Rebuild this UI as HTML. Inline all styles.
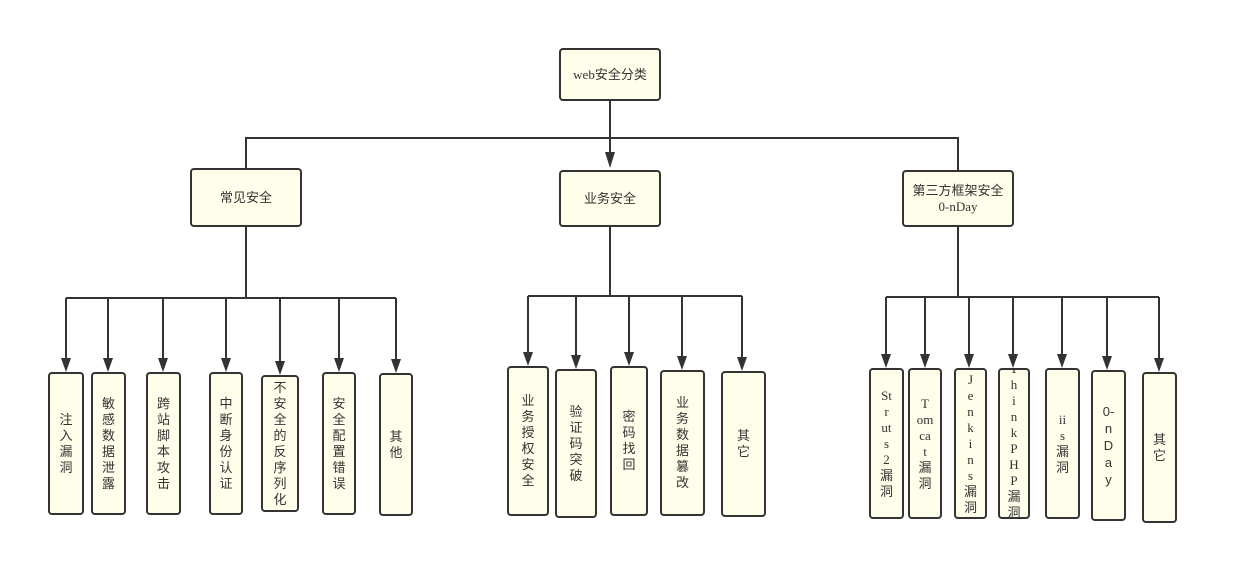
<!DOCTYPE html>
<html><head><meta charset="utf-8"><style>
body{margin:0;background:#fff;width:1238px;height:583px;position:relative;overflow:hidden;font-family:"Liberation Sans","Noto Sans CJK SC",sans-serif;}
.b{position:absolute;box-sizing:border-box;background:#fefeea;border:2px solid #333;border-radius:4px;display:flex;align-items:center;justify-content:center;text-align:center;color:#333;font-size:13px;line-height:16px;overflow:hidden;}
.s{font-family:"Liberation Serif","Noto Sans CJK SC",serif;}
svg{position:absolute;left:0;top:0;}
</style></head><body>
<svg width="1238" height="583">
<g stroke="#333" stroke-width="2" fill="none">
<path d="M610 100V152M246 168V138H958V170M610 138V152"/>
<path d="M246 226V298M66 298H396M66 298V358M108 298V358M163 298V358M226 298V358M280 298V361M339 298V358M396 298V359"/>
<path d="M610 226V296M528 296H742M528 296V352M576 296V355M629 296V352M682 296V356M742 296V357"/>
<path d="M958 226V297M886 297H1159M886 297V354M925 297V354M969 297V354M1013 297V354M1062 297V354M1107 297V356M1159 297V358"/>
</g>
<g fill="#333">
<path d="M605 152h10l-5 16z"/>
<path d="M61 358h10l-5 14zM103 358h10l-5 14zM158 358h10l-5 14zM221 358h10l-5 14zM275 361h10l-5 14zM334 358h10l-5 14zM391 359h10l-5 14z"/>
<path d="M523 352h10l-5 14zM571 355h10l-5 14zM624 352h10l-5 14zM677 356h10l-5 14zM737 357h10l-5 14z"/>
<path d="M881 354h10l-5 14zM920 354h10l-5 14zM964 354h10l-5 14zM1008 354h10l-5 14zM1057 354h10l-5 14zM1102 356h10l-5 14zM1154 358h10l-5 14z"/>
</g>
</svg>
<div class="b s" style="left:559px;top:48px;width:102px;height:53px">web安全分类</div>
<div class="b" style="left:190px;top:168px;width:112px;height:59px">常见安全</div>
<div class="b" style="left:559px;top:170px;width:102px;height:57px">业务安全</div>
<div class="b s" style="left:902px;top:170px;width:112px;height:57px;line-height:16px">第三方框架安全<br>0-nDay</div>

<div class="b" style="left:48px;top:372px;width:36px;height:143px">注<br>入<br>漏<br>洞</div>
<div class="b" style="left:91px;top:372px;width:35px;height:143px">敏<br>感<br>数<br>据<br>泄<br>露</div>
<div class="b" style="left:146px;top:372px;width:35px;height:143px">跨<br>站<br>脚<br>本<br>攻<br>击</div>
<div class="b" style="left:209px;top:372px;width:34px;height:143px">中<br>断<br>身<br>份<br>认<br>证</div>
<div class="b" style="left:261px;top:375px;width:38px;height:137px">不<br>安<br>全<br>的<br>反<br>序<br>列<br>化</div>
<div class="b" style="left:322px;top:372px;width:34px;height:143px">安<br>全<br>配<br>置<br>错<br>误</div>
<div class="b" style="left:379px;top:373px;width:34px;height:143px">其<br>他</div>

<div class="b" style="left:507px;top:366px;width:42px;height:150px">业<br>务<br>授<br>权<br>安<br>全</div>
<div class="b" style="left:555px;top:369px;width:42px;height:149px">验<br>证<br>码<br>突<br>破</div>
<div class="b" style="left:610px;top:366px;width:38px;height:150px">密<br>码<br>找<br>回</div>
<div class="b" style="left:660px;top:370px;width:45px;height:146px">业<br>务<br>数<br>据<br>篡<br>改</div>
<div class="b" style="left:721px;top:371px;width:45px;height:146px">其<br>它</div>

<div class="b s" style="left:869px;top:368px;width:35px;height:151px">St<br>r<br>ut<br>s<br>2<br>漏<br>洞</div>
<div class="b s" style="left:908px;top:368px;width:34px;height:151px">T<br>om<br>ca<br>t<br>漏<br>洞</div>
<div class="b s" style="left:954px;top:368px;width:33px;height:151px">J<br>e<br>n<br>k<br>i<br>n<br>s<br>漏<br>洞</div>
<div class="b s" style="left:998px;top:368px;width:32px;height:151px;align-items:flex-start"><div style="margin-top:-9px">T<br>h<br>i<br>n<br>k<br>P<br>H<br>P<br>漏<br>洞</div></div>
<div class="b s" style="left:1045px;top:368px;width:35px;height:151px">ii<br>s<br>漏<br>洞</div>
<div class="b" style="left:1091px;top:370px;width:35px;height:151px;line-height:17px">0-<br>n<br>D<br>a<br>y</div>
<div class="b" style="left:1142px;top:372px;width:35px;height:151px">其<br>它</div>
</body></html>
